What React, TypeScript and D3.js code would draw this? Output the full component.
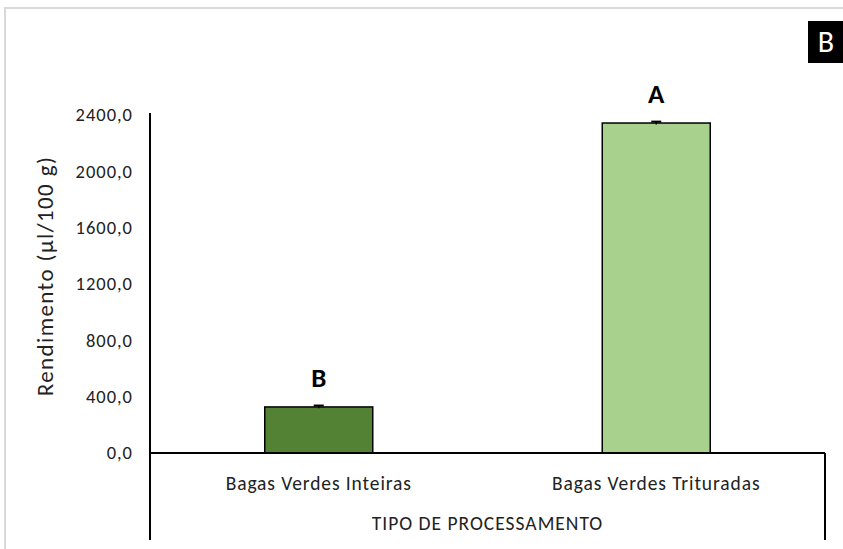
import React from "react";
import * as d3 from "d3";

const categories = ["Bagas Verdes Inteiras", "Bagas Verdes Trituradas"];
const values = [327, 2343];
const errors = [10, 10];
const letters = ["B", "A"];
const barColors = ["#548235", "#a9d18e"];
const yTicks = [0, 400, 800, 1200, 1600, 2000, 2400];
const yTitle = "Rendimento (µl/100 g)";
const xTitle = "TIPO DE PROCESSAMENTO";
const panelLabel = "B";

const W = 843;
const H = 549;
const FONT = "Carlito, Calibri, Lato, sans-serif";

export default function App() {
  const left = 150;
  const right = 825;
  const top = 115;
  const bottom = 453;

  const x = d3.scaleBand<string>().domain(categories).range([left, right]).paddingInner(0.68).paddingOuter(0.34);
  const y = d3.scaleLinear().domain([0, 2400]).range([bottom, top]);
  const bw = x.bandwidth();
  const fmt = (v: number) => d3.format(".1f")(v).replace(".", ",");

  return (
    <svg width={W} height={H} style={{ position: "absolute", left: 0, top: 0, background: "#fff" }} fontFamily={FONT}>
      <rect x={5} y={8} width={W + 20} height={H + 20} fill="#fff" stroke="#d9d9d9" strokeWidth={2} />
      {/* panel label */}
      <rect x={808} y={21} width={40} height={42} fill="#000" />
      <text x={826} y={52} fill="#fff" fontSize={30} textAnchor="middle">{panelLabel}</text>

      {/* bars */}
      {categories.map((c, i) => (
        <g key={c}>
          <rect x={x(c)!} y={y(values[i])} width={bw} height={bottom - y(values[i])} fill={barColors[i]} stroke="#000" strokeWidth={1.5} />
          <line x1={x(c)! + bw / 2} x2={x(c)! + bw / 2} y1={y(values[i] - errors[i])} y2={y(values[i] + errors[i])} stroke="#000" strokeWidth={1.5} />
          <line x1={x(c)! + bw / 2 - 5} x2={x(c)! + bw / 2 + 5} y1={y(values[i] + errors[i])} y2={y(values[i] + errors[i])} stroke="#000" strokeWidth={2} />
          <text x={x(c)! + bw / 2} y={y(values[i]) - 20} fontSize={27} fontWeight="bold" textAnchor="middle">{letters[i]}</text>
          <text x={x(c)! + bw / 2} y={490} fontSize={19.5} letterSpacing={0.9} textAnchor="middle" fill="#222">{c}</text>
        </g>
      ))}

      {/* axes */}
      <line x1={left} x2={left} y1={top - 2} y2={540} stroke="#000" strokeWidth={2} />
      <line x1={left} x2={right} y1={bottom} y2={bottom} stroke="#000" strokeWidth={2} />
      <line x1={right} x2={right} y1={bottom} y2={540} stroke="#000" strokeWidth={2} />

      {yTicks.map((t) => (
        <text key={t} x={133} y={y(t)} dy="0.35em" fontSize={18.5} letterSpacing={1} textAnchor="end" fill="#222">{fmt(t)}</text>
      ))}

      <text transform={`translate(53,276) rotate(-90)`} fontSize={23} letterSpacing={1.4} textAnchor="middle" fill="#222">{yTitle}</text>
      <text x={(left + right) / 2} y={530} fontSize={19.5} letterSpacing={1} textAnchor="middle" fill="#222">{xTitle}</text>
    </svg>
  );
}
